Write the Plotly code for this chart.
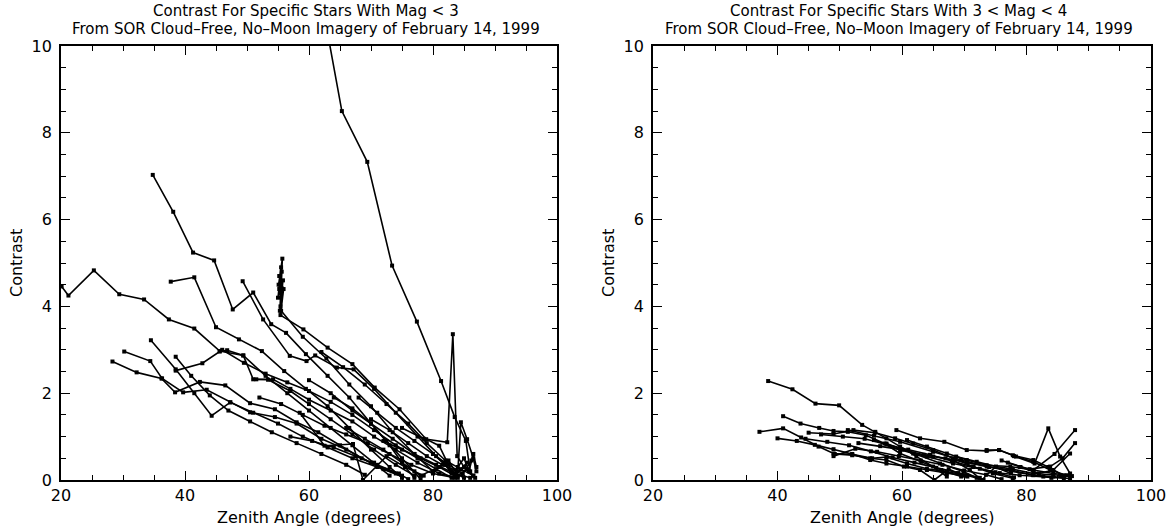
import plotly.graph_objects as go

# ---------------- Left panel: stars with Mag < 3 ----------------
l01_x = [62.1, 65.3, 69.4, 73.4, 77.4, 81.3, 83.5, 85.3, 86.0]
l01_y = [11.0, 8.5, 7.33, 4.94, 3.65, 2.28, 1.45, 0.9, 0.2]
l02_x = [34.8, 38.1, 41.3, 44.7, 47.7, 51.0, 53.9, 56.3, 59.5, 63.0, 66.5, 70.0, 73.0, 75.5, 77.0]
l02_y = [7.03, 6.18, 5.24, 5.06, 3.93, 4.32, 3.59, 3.39, 2.9, 2.4, 1.9, 1.3, 0.8, 0.3, 0.05]
l03_x = [37.7, 41.5, 45.0, 48.7, 52.4, 56.0, 59.5, 63.0, 66.5, 70.0, 73.0, 75.0]
l03_y = [4.57, 4.67, 3.52, 3.24, 2.97, 2.51, 2.1, 1.7, 1.2, 0.7, 0.3, 0.05]
l04_x = [20.1, 21.2, 25.3, 29.4, 33.4, 37.4, 41.5, 45.6, 49.4, 53.0, 56.5, 60.0, 63.5, 67.0, 70.5, 73.0]
l04_y = [4.46, 4.25, 4.83, 4.28, 4.16, 3.70, 3.49, 2.97, 2.87, 2.4, 2.0, 1.6, 1.2, 0.8, 0.4, 0.1]
l05_x = [28.3, 32.2, 36.2, 38.4, 42.4, 46.5, 50.5, 54.5, 58.0, 61.5, 65.0, 68.5, 72.0, 75.0]
l05_y = [2.73, 2.48, 2.34, 2.02, 2.26, 2.18, 1.77, 1.63, 1.33, 1.1, 0.8, 0.5, 0.25, 0.08]
l06_x = [30.2, 34.4, 36.3, 39.7, 43.5, 47.3, 50.5, 54.5, 58.0, 62.0, 66.0, 70.0, 74.0]
l06_y = [2.96, 2.74, 2.34, 2.02, 2.08, 1.79, 1.56, 1.45, 1.3, 0.95, 0.7, 0.4, 0.15]
l07_x = [34.5, 38.5, 41.5, 44.3, 47.3, 51.0, 55.0, 59.0, 63.0, 67.0, 71.0, 75.0]
l07_y = [3.22, 2.55, 2.0, 1.48, 1.79, 1.55, 1.3, 1.0, 0.75, 0.5, 0.3, 0.1]
l08_x = [38.5, 41.0, 44.0, 47.0, 50.5, 54.0, 58.0, 62.0, 66.0, 69.0]
l08_y = [2.84, 2.4, 1.95, 1.6, 1.35, 1.1, 0.85, 0.6, 0.35, 0.12]
l09_x = [38.5, 42.8, 45.6, 46.8, 49.4, 51.0, 53.4, 57.0, 60.0, 63.5, 67.0, 70.5, 74.0, 77.0]
l09_y = [2.52, 2.69, 2.96, 2.99, 2.87, 2.32, 2.31, 2.05, 1.75, 1.4, 1.05, 0.7, 0.35, 0.1]
l10_x = [55.2, 55.5, 55.0, 55.8, 55.3, 55.6, 55.1, 55.7, 55.4, 55.5, 55.2, 55.9, 55.4, 59.1,
         63.0, 67.0, 70.6, 74.6, 78.9, 81.0, 83.0]
l10_y = [4.4, 4.9, 4.2, 4.6, 3.9, 4.8, 4.5, 5.1, 4.0, 4.3, 4.7, 4.4, 3.8, 3.47,
         3.05, 2.67, 2.13, 1.63, 0.94, 0.79, 0.2]
l11_x = [55.5, 59.0, 62.8, 66.5, 70.0, 73.5, 77.0, 80.0]
l11_y = [3.9, 3.3, 2.8, 2.2, 1.7, 1.1, 0.6, 0.2]
l12_x = [49.3, 52.6, 56.9, 59.6, 61.0, 64.5, 67.2, 70.5, 74.0, 77.5, 80.5, 83.0, 85.0]
l12_y = [4.58, 3.70, 2.86, 2.74, 2.87, 2.59, 2.55, 2.1, 1.55, 1.0, 0.55, 0.2, 0.05]
l13_x = [51.5, 54.2, 57.0, 60.0, 63.5, 67.0, 70.5, 74.0, 77.5, 81.0, 84.0]
l13_y = [2.32, 2.32, 2.1, 1.85, 1.6, 1.35, 1.0, 0.7, 0.4, 0.15, 0.05]
l14_x = [52.0, 55.5, 59.0, 62.5, 66.0, 69.5, 73.0, 76.5, 80.0, 83.5]
l14_y = [1.90, 1.75, 1.5, 1.25, 1.05, 0.85, 0.6, 0.35, 0.15, 0.05]
l15_x = [58.5, 62.5, 67.1, 68.7, 72.5, 75.5, 78.5]
l15_y = [1.55, 0.79, 0.83, 0.0, 0.55, 0.3, 0.1]
l16_x = [60.0, 63.5, 67.0, 70.0, 73.5, 77.0, 80.5, 83.5, 86.0]
l16_y = [2.3, 2.0, 1.6, 1.3, 0.95, 0.6, 0.35, 0.15, 0.05]
l17_x = [75.0, 78.5, 82.3, 83.2, 83.9, 85.0, 86.5]
l17_y = [1.2, 0.95, 0.87, 3.36, 0.55, 0.3, 0.1]
l18_x = [70.0, 73.0, 76.0, 79.0, 81.5, 84.0, 84.5, 85.5, 86.5, 87.0]
l18_y = [1.4, 1.15, 0.85, 0.55, 0.35, 0.2, 1.33, 0.94, 0.5, 0.2]
l19_x = [64.0, 67.0, 70.0, 72.5, 75.0, 77.0, 78.0]
l19_y = [1.9, 1.65, 1.3, 0.9, 0.5, 0.2, 0.02]
l20_x = [80.0, 82.0, 83.0, 84.0, 85.0, 85.8, 86.5, 87.0]
l20_y = [0.6, 0.35, 0.15, 0.3, 0.5, 0.2, 0.6, 0.3]
l21_x = [66.0, 69.0, 72.0, 75.0, 78.0, 81.0, 83.5, 85.5]
l21_y = [1.2, 0.95, 0.7, 0.4, 0.1, 0.3, 0.1, 0.4]
l22_x = [57.0, 60.5, 64.0, 67.5, 71.0, 74.5, 76.0]
l22_y = [1.0, 0.9, 0.75, 0.55, 0.35, 0.15, 0.02]
l23_x = [72.0, 75.0, 78.0, 81.0, 82.5, 84.0, 85.5, 86.8]
l23_y = [0.9, 0.7, 0.5, 0.3, 0.45, 0.1, 0.25, 0.05]
l24_x = [46.0, 49.5, 53.0, 56.5, 60.0, 63.5, 67.0, 70.5, 74.0, 77.5, 80.5, 83.0]
l24_y = [3.0, 2.7, 2.45, 2.25, 2.05, 1.8, 1.5, 1.15, 0.8, 0.5, 0.25, 0.05]
l25_x = [62.0, 65.5, 69.0, 72.5, 76.0, 79.0, 82.0, 84.5, 86.5]
l25_y = [2.95, 2.6, 2.2, 1.75, 1.3, 0.85, 0.45, 0.25, 0.1]
l26_x = [68.0, 71.0, 74.0, 77.0, 80.0, 82.5, 84.8, 86.2]
l26_y = [1.9, 1.55, 1.2, 0.9, 0.6, 0.35, 0.15, 0.45]

# ---------------- Right panel: stars with 3 < Mag < 4 ----------------
r01_x = [38.5, 42.4, 46.1, 49.9, 53.6, 55.7, 57.5, 59.7, 62.3, 65.0, 67.2]
r01_y = [2.28, 2.09, 1.76, 1.72, 1.27, 1.11, 0.96, 0.77, 0.54, 0.31, 0.08]
r02_x = [40.9, 43.7, 46.7, 49.0, 51.3, 54.2, 57.2, 59.7, 63.1, 66.3, 69.5]
r02_y = [1.47, 1.30, 1.20, 1.13, 1.11, 1.03, 0.84, 0.61, 0.42, 0.23, 0.08]
r03_x = [37.1, 40.9, 43.8, 46.6, 49.0, 52.0, 55.2, 57.5, 60.8, 64.0, 67.2, 70.4, 73.1]
r03_y = [1.11, 1.19, 0.98, 0.77, 0.61, 0.59, 0.50, 0.53, 0.38, 0.26, 0.19, 0.11, 0.0]
r04_x = [40.0, 43.1, 46.0, 49.0, 52.0, 54.9, 57.5, 60.8, 64.0, 67.2, 70.5]
r04_y = [0.96, 0.90, 0.81, 0.71, 0.60, 0.46, 0.38, 0.31, 0.23, 0.15, 0.08]
r05_x = [45.0, 49.0, 52.2, 55.7, 58.9, 61.8, 65.0, 68.2, 71.4, 74.6, 77.8]
r05_y = [1.09, 1.06, 1.15, 1.09, 0.96, 0.84, 0.69, 0.50, 0.31, 0.15, 0.04]
r06_x = [59.1, 62.9, 66.8, 70.4, 73.6, 75.6, 77.8, 81.1, 83.5, 86.0]
r06_y = [1.15, 0.96, 0.88, 0.69, 0.67, 0.69, 0.57, 0.46, 0.30, 0.10]
r07_x = [78.0, 81.3, 83.5, 85.4, 87.0]
r07_y = [0.55, 0.38, 1.19, 0.54, 0.15]
r08_x = [76.0, 79.0, 81.1, 84.5, 87.8]
r08_y = [0.45, 0.30, 0.23, 0.6, 1.15]
r09_x = [77.0, 80.5, 83.8, 85.8, 87.8]
r09_y = [0.40, 0.25, 0.31, 0.5, 0.85]
r10_x = [79.0, 82.0, 84.3, 87.0]
r10_y = [0.30, 0.15, 0.23, 0.61]
r11_x = [49.2, 52.0, 54.9, 57.5, 60.3, 62.9, 65.2, 67.5, 70.0]
r11_y = [0.60, 0.57, 0.50, 0.46, 0.31, 0.23, 0.0, 0.25, 0.1]
r12_x = [51.3, 55.5, 59.7, 65.0, 69.5, 73.6, 77.5, 81.1, 84.3, 87.0]
r12_y = [1.15, 1.02, 0.88, 0.65, 0.46, 0.31, 0.23, 0.11, 0.08, 0.03]
r13_x = [55.5, 59.7, 64.0, 68.2, 72.5, 75.7, 78.9, 82.7, 86.0]
r13_y = [0.92, 0.69, 0.54, 0.38, 0.26, 0.16, 0.11, 0.08, 0.04]
r14_x = [60.8, 64.0, 67.2, 70.4, 73.6, 77.4, 81.1, 84.3, 87.0]
r14_y = [0.92, 0.77, 0.61, 0.46, 0.34, 0.31, 0.23, 0.15, 0.11]
r15_x = [65.0, 68.2, 70.9, 72.8, 75.0, 77.5]
r15_y = [0.54, 0.46, 0.23, 0.0, 0.3, 0.15]
r16_x = [57.5, 61.8, 66.1, 69.9, 72.0]
r16_y = [0.84, 0.61, 0.38, 0.19, 0.05]
r17_x = [73.6, 75.6, 78.3, 81.1, 83.8, 86.4]
r17_y = [0.69, 0.69, 0.54, 0.42, 0.23, 0.11]
r18_x = [68.7, 72.0, 75.1, 77.8, 81.1, 85.4, 87.3]
r18_y = [0.54, 0.42, 0.31, 0.25, 0.15, 0.11, 0.09]
r19_x = [44.5, 48.0, 51.5, 55.0, 58.5, 62.0, 65.5, 69.0, 72.5]
r19_y = [0.95, 0.88, 0.80, 0.66, 0.52, 0.40, 0.28, 0.16, 0.05]
r20_x = [49.0, 52.5, 56.0, 59.5, 63.0, 66.5, 70.0, 73.5, 76.0]
r20_y = [0.55, 0.72, 0.65, 0.55, 0.45, 0.35, 0.22, 0.12, 0.02]
r21_x = [47.0, 50.5, 54.0, 57.5, 61.0, 64.5, 68.0, 71.5, 75.0, 78.0]
r21_y = [1.05, 1.0, 0.95, 0.82, 0.7, 0.58, 0.44, 0.3, 0.18, 0.06]
r22_x = [53.0, 56.5, 60.0, 63.5, 67.0, 70.5, 74.0, 77.5, 81.0, 84.0]
r22_y = [0.85, 0.78, 0.7, 0.58, 0.5, 0.4, 0.3, 0.2, 0.12, 0.05]

left_series = [(l01_x, l01_y), (l02_x, l02_y), (l03_x, l03_y), (l04_x, l04_y), (l05_x, l05_y),
               (l06_x, l06_y), (l07_x, l07_y), (l08_x, l08_y), (l09_x, l09_y), (l10_x, l10_y),
               (l11_x, l11_y), (l12_x, l12_y), (l13_x, l13_y), (l14_x, l14_y), (l15_x, l15_y),
               (l16_x, l16_y), (l17_x, l17_y), (l18_x, l18_y), (l19_x, l19_y), (l20_x, l20_y),
               (l21_x, l21_y), (l22_x, l22_y), (l23_x, l23_y), (l24_x, l24_y), (l25_x, l25_y),
               (l26_x, l26_y)]
right_series = [(r01_x, r01_y), (r02_x, r02_y), (r03_x, r03_y), (r04_x, r04_y), (r05_x, r05_y),
                (r06_x, r06_y), (r07_x, r07_y), (r08_x, r08_y), (r09_x, r09_y), (r10_x, r10_y),
                (r11_x, r11_y), (r12_x, r12_y), (r13_x, r13_y), (r14_x, r14_y), (r15_x, r15_y),
                (r16_x, r16_y), (r17_x, r17_y), (r18_x, r18_y), (r19_x, r19_y), (r20_x, r20_y),
                (r21_x, r21_y), (r22_x, r22_y)]

x_ticks = [20, 40, 60, 80, 100]
y_ticks = [0, 2, 4, 6, 8, 10]
title_left = ["Contrast For Specific Stars With Mag < 3",
              "From SOR Cloud\u2013Free, No\u2013Moon Imagery of February 14, 1999"]
title_right = ["Contrast For Specific Stars With 3 < Mag < 4",
               "From SOR Cloud\u2013Free, No\u2013Moon Imagery of February 14, 1999"]

FONT = "DejaVu Sans"
W, H = 1176, 529

fig = go.Figure()
line_style = dict(color="black", width=1.6)
marker_style = dict(symbol="square", size=4, color="black")
for xs, ys in left_series:
    fig.add_trace(go.Scatter(x=xs, y=ys, mode="lines+markers", line=line_style,
                             marker=marker_style, xaxis="x", yaxis="y", showlegend=False))
for xs, ys in right_series:
    fig.add_trace(go.Scatter(x=xs, y=ys, mode="lines+markers", line=line_style,
                             marker=marker_style, xaxis="x2", yaxis="y2", showlegend=False))

ydom = [1 - 480 / H, 1 - 46 / H]
xdom1 = [61 / W, 557 / W]
xdom2 = [653 / W, 1151 / W]

def xaxis(dom, anchor):
    return dict(domain=dom, anchor=anchor, range=[20, 100], tickvals=x_ticks,
                ticks="inside", ticklen=9, tickwidth=1.3, tickcolor="black",
                minor=dict(dtick=5, tick0=0, ticks="inside", ticklen=5, tickwidth=1.1, tickcolor="black"),
                showline=True, linecolor="black", linewidth=1.8, mirror="allticks",
                showgrid=False, zeroline=False, automargin=False,
                tickfont=dict(family=FONT, size=16, color="black"))

def yaxis(anchor):
    return dict(domain=ydom, anchor=anchor, range=[0, 10], tickvals=y_ticks,
                ticks="inside", ticklen=9, tickwidth=1.3, tickcolor="black",
                minor=dict(dtick=0.5, tick0=0, ticks="inside", ticklen=5, tickwidth=1.1, tickcolor="black"),
                showline=True, linecolor="black", linewidth=1.8, mirror="allticks",
                showgrid=False, zeroline=False, automargin=False, ticklabelstandoff=4,
                tickfont=dict(family=FONT, size=16, color="black"))

annotations = []
for dom, lines in ((xdom1, title_left), (xdom2, title_right)):
    cx = (dom[0] + dom[1]) / 2
    for i, t in enumerate(lines):
        annotations.append(dict(text=t, x=cx - 3 / W, y=1 - (11 + 18 * i) / H, xref="paper", yref="paper",
                                xanchor="center", yanchor="middle", showarrow=False,
                                font=dict(family=FONT, size=15, color="black")))
    annotations.append(dict(text="Zenith Angle (degrees)", x=cx, y=1 - 517 / H, xref="paper",
                            yref="paper", xanchor="center", yanchor="middle", showarrow=False,
                            font=dict(family=FONT, size=16, color="black")))
    annotations.append(dict(text="Contrast", x=(dom[0] * W - 45) / W, y=1 - 263 / H, xref="paper",
                            yref="paper", xanchor="center", yanchor="middle", showarrow=False,
                            textangle=-90, font=dict(family=FONT, size=16, color="black")))

fig.update_layout(
    width=W, height=H, autosize=False,
    margin=dict(l=0, r=0, t=0, b=0),
    paper_bgcolor="white", plot_bgcolor="white",
    xaxis=xaxis(xdom1, "y"), yaxis=yaxis("x"),
    xaxis2=xaxis(xdom2, "y2"), yaxis2=yaxis("x2"),
    annotations=annotations,
    showlegend=False,
)

fig.write_html("out.html")
